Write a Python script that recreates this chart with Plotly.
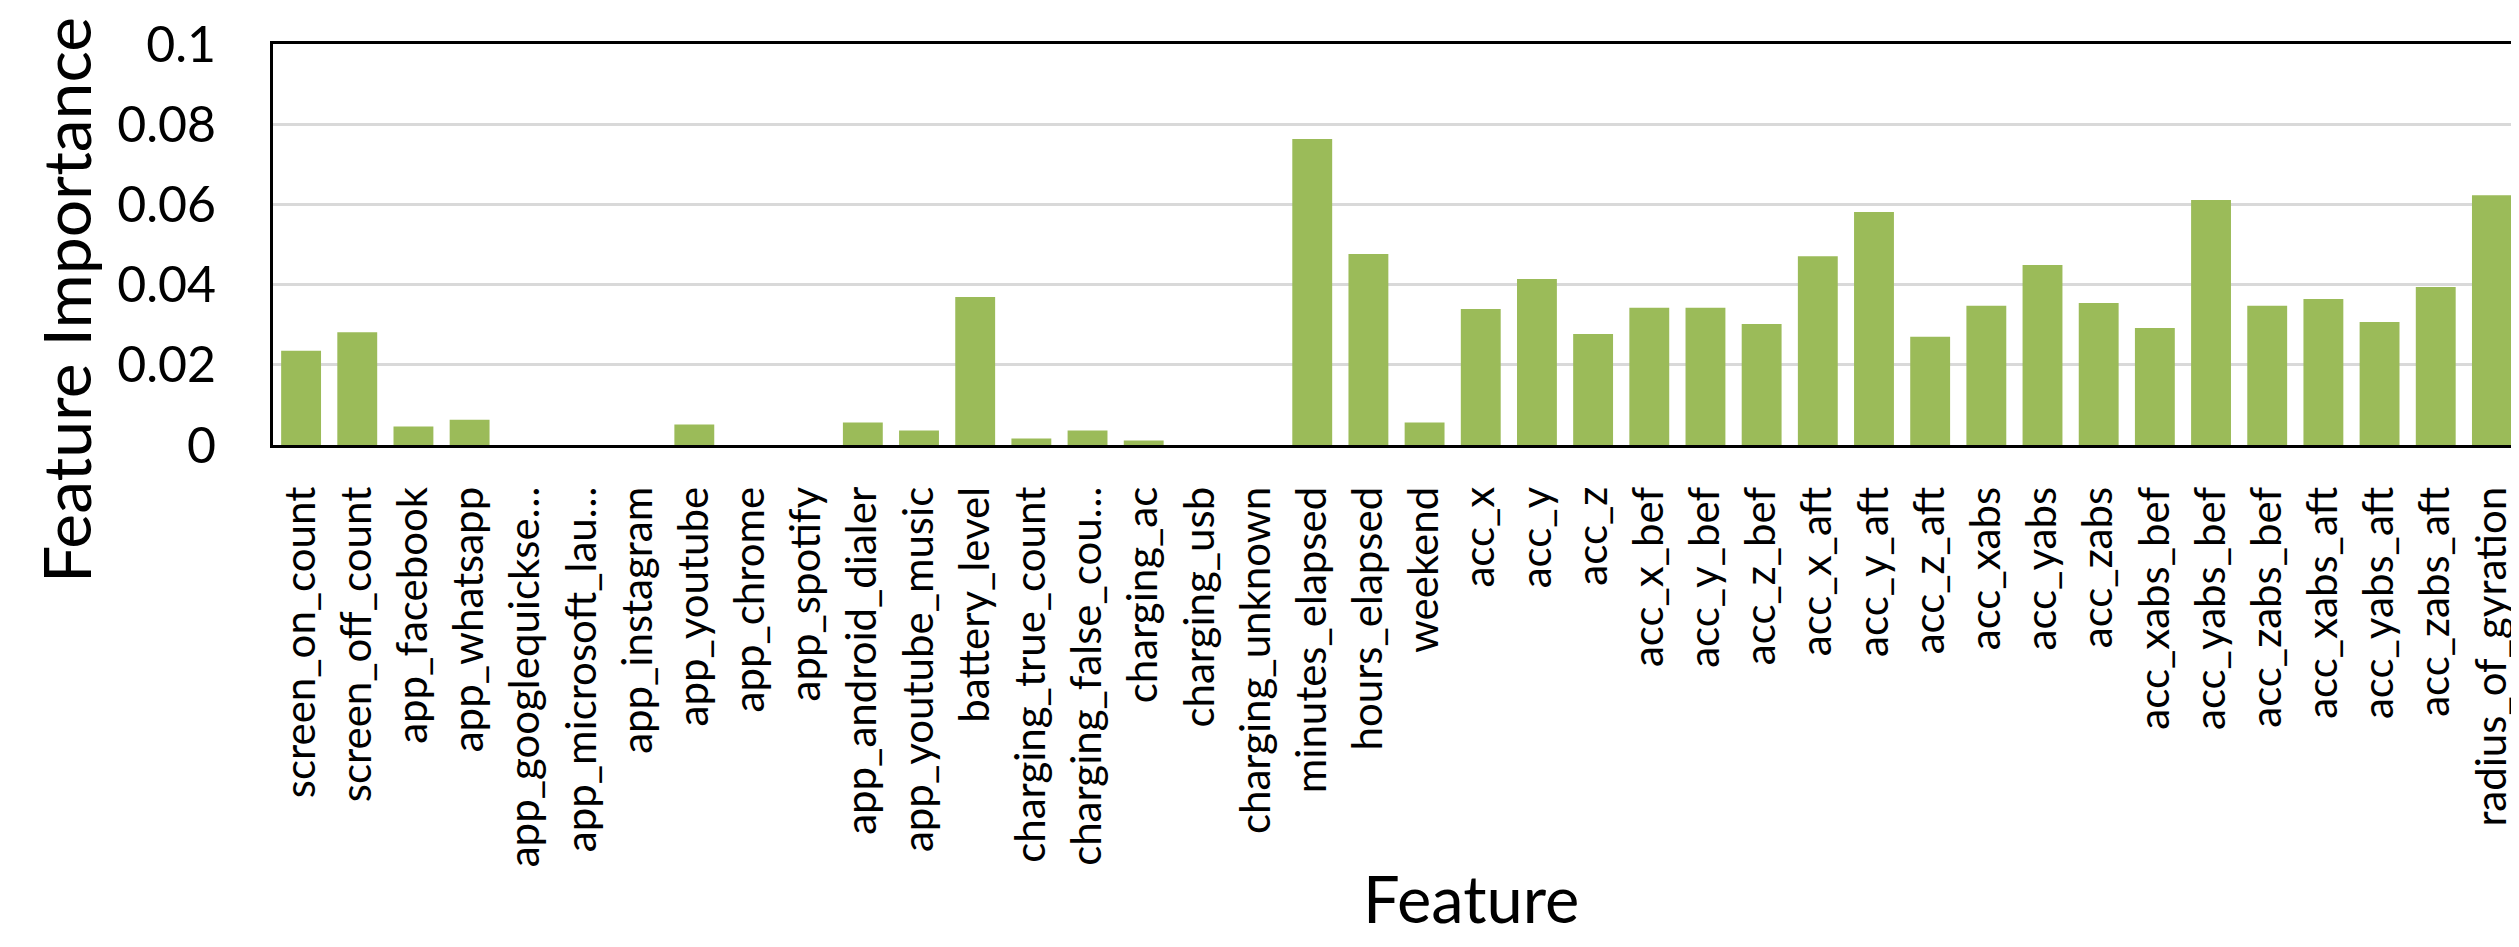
import plotly.graph_objects as go

# feature names as printed under the bars (long ones are cut off in the source)
features = [
    'screen_on_count', 'screen_off_count', 'app_facebook', 'app_whatsapp',
    'app_googlequickse…', 'app_microsoft_lau…', 'app_instagram', 'app_youtube',
    'app_chrome', 'app_spotify', 'app_android_dialer', 'app_youtube_music',
    'battery_level', 'charging_true_count', 'charging_false_cou…', 'charging_ac',
    'charging_usb', 'charging_unknown', 'minutes_elapsed', 'hours_elapsed',
    'weekend', 'acc_x', 'acc_y', 'acc_z', 'acc_x_bef', 'acc_y_bef', 'acc_z_bef',
    'acc_x_aft', 'acc_y_aft', 'acc_z_aft', 'acc_xabs', 'acc_yabs', 'acc_zabs',
    'acc_xabs_bef', 'acc_yabs_bef', 'acc_zabs_bef', 'acc_xabs_aft',
    'acc_yabs_aft', 'acc_zabs_aft', 'radius_of_gyration',
]

importance = [
    0.0235, 0.0281, 0.0046, 0.0063, 0.0, 0.0, 0.0, 0.0051,
    0.0, 0.0, 0.0056, 0.0036, 0.0369, 0.0016, 0.0036, 0.0011,
    0.0, 0.0, 0.0763, 0.0476, 0.0056, 0.0339, 0.0414, 0.0277,
    0.0342, 0.0342, 0.0302, 0.0471, 0.0581, 0.0270, 0.0347, 0.0449,
    0.0354, 0.0292, 0.0611, 0.0347, 0.0364, 0.0307, 0.0394, 0.0623,
]

y_ticks = [0, 0.02, 0.04, 0.06, 0.08, 0.1]
y_tick_text = ['0', '0.02', '0.04', '0.06', '0.08', '0.1']

font_name = 'Lato, Open Sans, sans-serif'

fig = go.Figure(go.Bar(
    x=features,
    y=importance,
    marker=dict(color='#9BBB59', line=dict(width=0)),
))

fig.update_layout(
    width=2519, height=947,
    margin=dict(l=265, r=4, t=34, b=510),
    paper_bgcolor='white',
    plot_bgcolor='white',
    bargap=0.29,
    showlegend=False,
    font=dict(family=font_name, color='black'),
)

fig.update_xaxes(
    type='category',
    tickangle=-90,
    tickfont=dict(size=42, family=font_name, color='black'),
    showline=True, mirror=True, linecolor='black', linewidth=3,
    showgrid=False,
    ticks='',
    ticklabelstandoff=22,
)

fig.update_yaxes(
    range=[0, 0.1],
    tickvals=y_ticks,
    ticktext=y_tick_text,
    tickfont=dict(size=50, family=font_name, color='black'),
    showline=True, mirror=True, linecolor='black', linewidth=3,
    showgrid=True, gridcolor='#D9D9D9', gridwidth=2.5,
    zeroline=False,
    ticks='',
    ticklabelstandoff=44,
)

# axis titles placed where they sit in the original
fig.add_annotation(
    text='Feature Importance', textangle=-90,
    xref='paper', yref='paper', x=-0.092, y=0.362,
    xanchor='center', yanchor='middle', showarrow=False,
    font=dict(size=66, family=font_name, color='black'),
)
fig.add_annotation(
    text='Feature',
    xref='paper', yref='paper', x=0.533, y=-1.129,
    xanchor='center', yanchor='middle', showarrow=False,
    font=dict(size=65, family=font_name, color='black'),
)

fig.write_html("out.html")
